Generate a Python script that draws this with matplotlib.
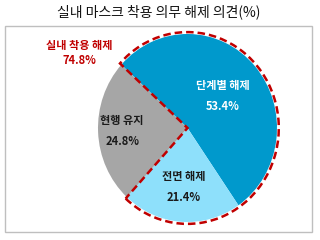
import numpy as np
import matplotlib
matplotlib.use("Agg")
import matplotlib.pyplot as plt
from matplotlib.patches import Wedge, Rectangle

plt.rcParams["font.family"] = ["Noto Sans CJK KR", "DejaVu Sans"]

TITLE = "실내 마스크 착용 의무 해제 의견(%)"
labels = ["단계별 해제", "전면 해제", "현행 유지"]
values = [53.4, 21.4, 24.8]
colors = ["#0099CC", "#8EE0FB", "#A6A6A6"]
text_colors = ["white", "#1A1A1A", "#1A1A1A"]
group_label = "실내 착용 해제"
group_value = 74.8          # 단계별 + 전면 해제

START_ANGLE = 137.7
LABEL_R = [0.52, 0.63, 0.73]
RED = "#C00000"

fig = plt.figure(figsize=(3.2, 2.4), dpi=100)

# frame + title on a pixel-space overlay
bg = fig.add_axes([0, 0, 1, 1])
bg.set_xlim(0, 320)
bg.set_ylim(240, 0)
bg.axis("off")
bg.add_patch(Rectangle((5, 26), 307, 206, fill=False, ec="#BFBFBF", lw=1.0))
bg.text(159, 12, TITLE, ha="center", va="center", fontsize=10,
        fontweight="medium", color="#111111")
bg.text(79, 45, group_label, ha="center", va="center", fontsize=8,
        fontweight="bold", color=RED)
bg.text(79, 60, f"{group_value:.1f}%", ha="center", va="center", fontsize=8,
        fontweight="bold", color=RED)

# pie (slightly taller than wide, like the source)
ax = fig.add_axes([98 / 320, 18 / 240, 179 / 320, 188 / 240])
ax.pie(values, colors=colors, startangle=START_ANGLE, counterclock=False,
       radius=1.0, wedgeprops=dict(linewidth=0))
ax.set_aspect("auto")
ax.set_xlim(-1, 1)
ax.set_ylim(-1, 1)
ax.axis("off")

# wedge labels
total = sum(values)
angle = START_ANGLE
for lab, v, tc, r in zip(labels, values, text_colors, LABEL_R):
    span = 360 * v / total
    mid = np.deg2rad(angle - span / 2)
    x, y = r * np.cos(mid), r * np.sin(mid)
    ax.text(x, y + 0.11, lab, ha="center", va="center", fontsize=8,
            fontweight="bold", color=tc)
    ax.text(x, y - 0.11, f"{v:.1f}%", ha="center", va="center", fontsize=8,
            fontweight="bold", color=tc)
    angle -= span

# dashed outline around the "해제" group
end_angle = START_ANGLE - 360 * (values[0] + values[1]) / total
ax.add_patch(Wedge((0, 0), 1.02, end_angle, START_ANGLE, fill=False,
                   ec=RED, lw=1.8, ls=(0, (3, 1.6)), clip_on=False))

fig.savefig("out.png", dpi=100)
